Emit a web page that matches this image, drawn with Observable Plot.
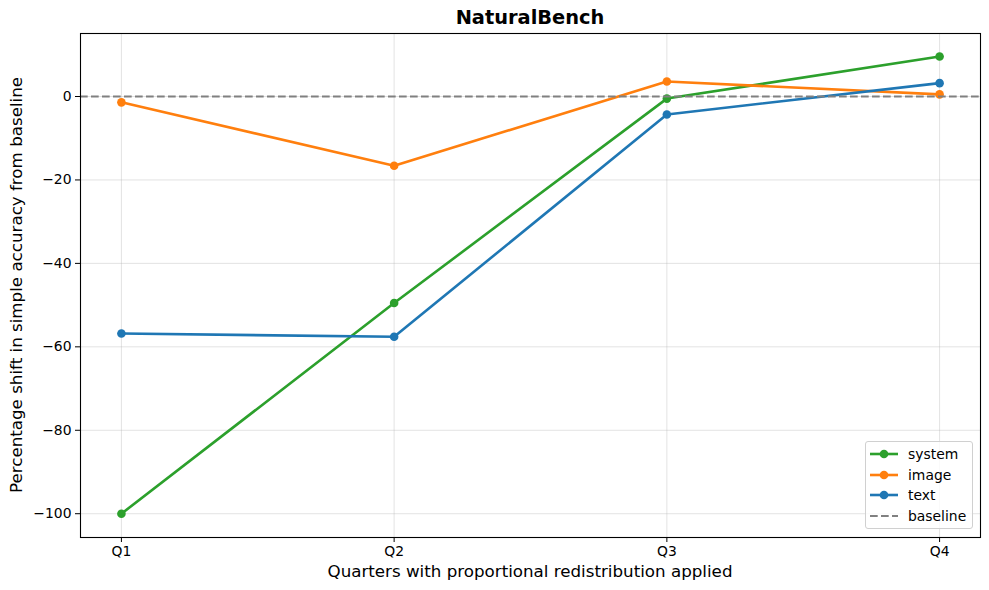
<!DOCTYPE html>
<html>
<head>
<meta charset="utf-8">
<script src="https://cdn.jsdelivr.net/npm/d3@7"></script>
<script src="https://cdn.jsdelivr.net/npm/@observablehq/plot@0.6"></script>
<style>
  html, body { margin: 0; padding: 0; background: #fff; }
  #fig { position: relative; width: 989px; height: 590px; font-family: "DejaVu Sans", sans-serif; }
  #title { position: absolute; left: 80px; width: 900px; top: 6px; text-align: center; font-weight: bold; font-size: 19.4px; color: #000; }
  #xlabel { position: absolute; left: 80px; width: 900px; top: 561px; text-align: center; font-size: 16.7px; color: #000; line-height: 20px; }
  #ylabel { position: absolute; left: 16px; top: 285px; transform: translate(-50%, -50%) rotate(-90deg); white-space: nowrap; font-size: 16.7px; color: #000; line-height: 20px; }
  #legend { position: absolute; left: 865px; top: 441px; width: 106px; height: 86px; border: 1px solid #d0d0d0; border-radius: 3px; background: rgba(255,255,255,0.8); font-size: 13.9px; color: #000; }
  .entry { position: absolute; left: 0; height: 20px; display: flex; align-items: center; }
  .entry svg { margin-left: 3px; margin-right: 9px; }
</style>
</head>
<body>
<div id="fig">
  <div id="chart"></div>
  <div id="title">NaturalBench</div>
  <div id="xlabel">Quarters with proportional redistribution applied</div>
  <div id="ylabel">Percentage shift in simple accuracy from baseline</div>
  <div id="legend"></div>
</div>
<script>
const quarters = ["Q1", "Q2", "Q3", "Q4"];
const seriesNames = ["system", "image", "text"];
const seriesColors = ["#2ca02c", "#ff7f0e", "#1f77b4"];
const systemValues = [-100, -49.5, -0.5, 9.6];
const imageValues = [-1.4, -16.6, 3.6, 0.5];
const textValues = [-56.8, -57.6, -4.3, 3.2];
const baselineValue = 0;
const yTicks = [-100, -80, -60, -40, -20, 0];

const valuesBySeries = { system: systemValues, image: imageValues, text: textValues };
const rows = seriesNames.map(s => valuesBySeries[s].map((v, i) => ({ series: s, qi: i, value: v })));

const seriesMarks = seriesNames.flatMap((s, k) => [
  Plot.line(rows[k], { x: "qi", y: "value", stroke: seriesColors[k], strokeWidth: 2.6 }),
  Plot.dot(rows[k], { x: "qi", y: "value", fill: seriesColors[k], r: 4.3, stroke: "none" })
]);

const chart = Plot.plot({
  width: 989,
  height: 590,
  marginLeft: 80,
  marginRight: 9,
  marginTop: 33,
  marginBottom: 53,
  style: { fontFamily: "DejaVu Sans, sans-serif", fontSize: "13.9px", color: "#000", background: "#fff" },
  x: { domain: [-0.15, 3.15] },
  y: { domain: [-105.7, 15.1] },
  marks: [
    Plot.gridX([0, 1, 2, 3], { stroke: "#b0b0b0", strokeOpacity: 0.35, strokeWidth: 1 }),
    Plot.gridY(yTicks, { stroke: "#b0b0b0", strokeOpacity: 0.35, strokeWidth: 1 }),
    ...seriesMarks,
    Plot.ruleY([baselineValue], { stroke: "#808080", strokeWidth: 2, strokeDasharray: "7.7,3.3" }),
    Plot.frame({ stroke: "#000", strokeWidth: 1.1 }),
    Plot.axisX([0, 1, 2, 3], {
      tickFormat: i => quarters[i], tickSize: 5, tickPadding: 4, fontSize: 13.9, label: null
    }),
    Plot.axisY(yTicks, {
      tickFormat: d => d < 0 ? "\u2212" + Math.abs(d) : String(d), tickSize: 5, tickPadding: 4, fontSize: 13.9, label: null
    })
  ]
});
document.getElementById("chart").appendChild(chart);

// legend
const legend = document.getElementById("legend");
const entries = seriesNames.map((s, k) => ({ name: s, color: seriesColors[k], dashed: false }))
  .concat([{ name: "baseline", color: "#808080", dashed: true }]);
entries.forEach((e, i) => {
  const div = document.createElement("div");
  div.className = "entry";
  div.style.top = (2 + i * 20.5) + "px";
  const sw = e.dashed
    ? `<svg width="30" height="12"><line x1="1" x2="29" y1="6" y2="6" stroke="${e.color}" stroke-width="2" stroke-dasharray="7.7,3.3"/></svg>`
    : `<svg width="30" height="12"><line x1="1" x2="29" y1="6" y2="6" stroke="${e.color}" stroke-width="2.6"/><circle cx="15" cy="6" r="4.3" fill="${e.color}"/></svg>`;
  div.innerHTML = sw + `<span>${e.name}</span>`;
  legend.appendChild(div);
});
</script>
</body>
</html>
